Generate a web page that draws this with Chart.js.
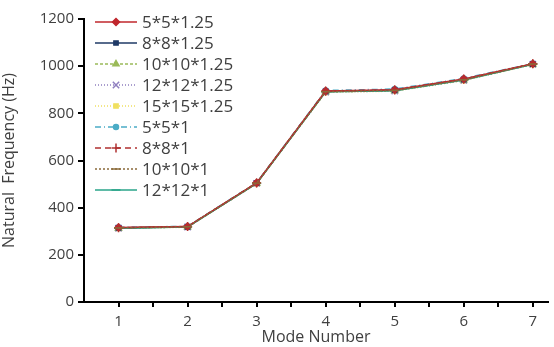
<!DOCTYPE html>
<html>
<head>
<meta charset="utf-8">
<script src="https://cdn.jsdelivr.net/npm/chart.js@4.4.0/dist/chart.umd.min.js"></script>
<style>
  html, body { margin: 0; padding: 0; background: #fff; }
  #wrap { width: 554px; height: 347px; }
</style>
</head>
<body>
<div id="wrap"><canvas id="freqChart" width="554" height="347"></canvas></div>
<script>
// mode numbers on the x axis
const modes = [1, 2, 3, 4, 5, 6, 7];
const yTicks = [0, 200, 400, 600, 800, 1000, 1200];

// natural frequencies (Hz) for each mesh size
const mesh5x5x125 = [316, 320, 505, 895, 900, 946, 1010];
const mesh8x8x125 = [314, 319, 504, 893, 898, 943, 1009];
const mesh10x10x125 = [313, 318, 503, 891, 896, 941, 1008];
const mesh12x12x125 = [313, 318, 503, 890, 895, 940, 1008];
const mesh15x15x125 = [312, 317, 502, 889, 894, 939, 1007];
const mesh5x5x1 = [317, 321, 506, 897, 903, 948, 1011];
const mesh8x8x1 = [315, 320, 505, 894, 899, 945, 1010];
const mesh10x10x1 = [314, 319, 504, 892, 897, 942, 1009];
const mesh12x12x1 = [313, 318, 503, 891, 896, 941, 1008];

const seriesNames = ['5*5*1.25', '8*8*1.25', '10*10*1.25', '12*12*1.25', '15*15*1.25',
                     '5*5*1', '8*8*1', '10*10*1', '12*12*1'];
const seriesValues = [mesh5x5x125, mesh8x8x125, mesh10x10x125, mesh12x12x125, mesh15x15x125,
                      mesh5x5x1, mesh8x8x1, mesh10x10x1, mesh12x12x1];

// drawOrder: lower is drawn later (on top)
const styles = [
  { color: '#c0272d', dash: [], point: 'rectRot', r: 3.5, drawOrder: 2 },
  { color: '#1f3a66', dash: [], point: 'rect', r: 3, drawOrder: 5 },
  { color: '#9bbb59', dash: [3, 2], point: 'triangle', r: 3.5, drawOrder: 5 },
  { color: '#8f7fbf', dash: [1, 2], point: 'crossRot', r: 4.5, drawOrder: 5 },
  { color: '#f0e060', dash: [1, 2], point: 'rect', r: 3, drawOrder: 5 },
  { color: '#4bacc6', dash: [6, 3, 1, 3], point: 'circle', r: 2.5, drawOrder: 5 },
  { color: '#b03030', dash: [6, 4], point: 'cross', r: 4.5, drawOrder: 1 },
  { color: '#8a6a3a', dash: [2, 2], point: 'line', r: 4.5, drawOrder: 0 },
  { color: '#2aa58a', dash: [], point: 'line', r: 4.5, drawOrder: 3 }
];

const datasets = seriesNames.map((name, i) => ({
  label: name,
  data: modes.map((m, j) => ({ x: m, y: seriesValues[i][j] })),
  order: styles[i].drawOrder,
  borderColor: styles[i].color,
  backgroundColor: styles[i].color,
  borderWidth: 1.5,
  borderDash: styles[i].dash,
  pointStyle: styles[i].point,
  pointRadius: styles[i].r,
  pointBorderWidth: 1.5,
  tension: 0
}));

// legend drawn inside the plot, line sample + marker + label
const insideLegend = {
  id: 'insideLegend',
  afterDraw(chart) {
    const ctx = chart.ctx;
    const x0 = 95, x1 = 137, top = 22, step = 21;
    ctx.save();
    ctx.font = '17px "Open Sans", sans-serif';
    ctx.textBaseline = 'middle';
    chart.data.datasets.forEach((ds, i) => {
      const y = top + i * step;
      ctx.strokeStyle = ds.borderColor;
      ctx.fillStyle = ds.borderColor;
      ctx.lineWidth = 1.5;
      ctx.setLineDash(ds.borderDash);
      ctx.beginPath();
      ctx.moveTo(x0, y);
      ctx.lineTo(x1, y);
      ctx.stroke();
      ctx.setLineDash([]);
      Chart.helpers.drawPoint(ctx, {
        pointStyle: ds.pointStyle, radius: ds.pointRadius, rotation: 0,
        borderWidth: 1.5
      }, (x0 + x1) / 2, y);
      ctx.fillStyle = '#404040';
      ctx.fillText(ds.label, x1 + 5, y + 1);
    });
    ctx.restore();
  }
};

new Chart(document.getElementById('freqChart').getContext('2d'), {
  type: 'line',
  data: { datasets: datasets },
  options: {
    responsive: false,
    animation: false,
    layout: { padding: { top: 19, right: 0, left: 0, bottom: 0 } },
    plugins: { legend: { display: false }, tooltip: { enabled: false } },
    scales: {
      x: {
        type: 'linear',
        min: 0.5,
        max: 7.22,
        border: { color: '#000', width: 2 },
        grid: { drawOnChartArea: false, color: '#000', lineWidth: 2, tickLength: 5 },
        afterBuildTicks(scale) {
          const t = [];
          for (let v = 1; v <= 7; v += 0.5) t.push({ value: v });
          scale.ticks = t;
        },
        ticks: {
          color: '#404040',
          font: { family: '"Open Sans", sans-serif', size: 15 },
          padding: 6,
          maxRotation: 0,
          autoSkip: false,
          callback: v => (Number.isInteger(v) && modes.includes(v) ? String(v) : '')
        },
        title: {
          display: true,
          text: 'Mode Number',
          color: '#404040',
          font: { family: '"Open Sans", sans-serif', size: 16 },
          padding: { top: 0, bottom: 0 }
        },
        afterFit(scale) { scale.height = 45; }
      },
      y: {
        min: 0,
        max: 1200,
        border: { color: '#000', width: 2 },
        grid: { drawOnChartArea: false, color: '#000', lineWidth: 2, tickLength: 6 },
        afterBuildTicks(scale) { scale.ticks = yTicks.map(v => ({ value: v })); },
        ticks: {
          color: '#404040',
          font: { family: '"Open Sans", sans-serif', size: 15 },
          padding: 4,
          callback: v => String(v)
        },
        title: {
          display: true,
          text: 'Natural  Frequency (Hz)',
          color: '#404040',
          font: { family: '"Open Sans", sans-serif', size: 16 },
          padding: { top: 0, bottom: 2 }
        },
        afterFit(scale) { scale.width = 84; }
      }
    }
  },
  plugins: [insideLegend]
});
</script>
</body>
</html>
